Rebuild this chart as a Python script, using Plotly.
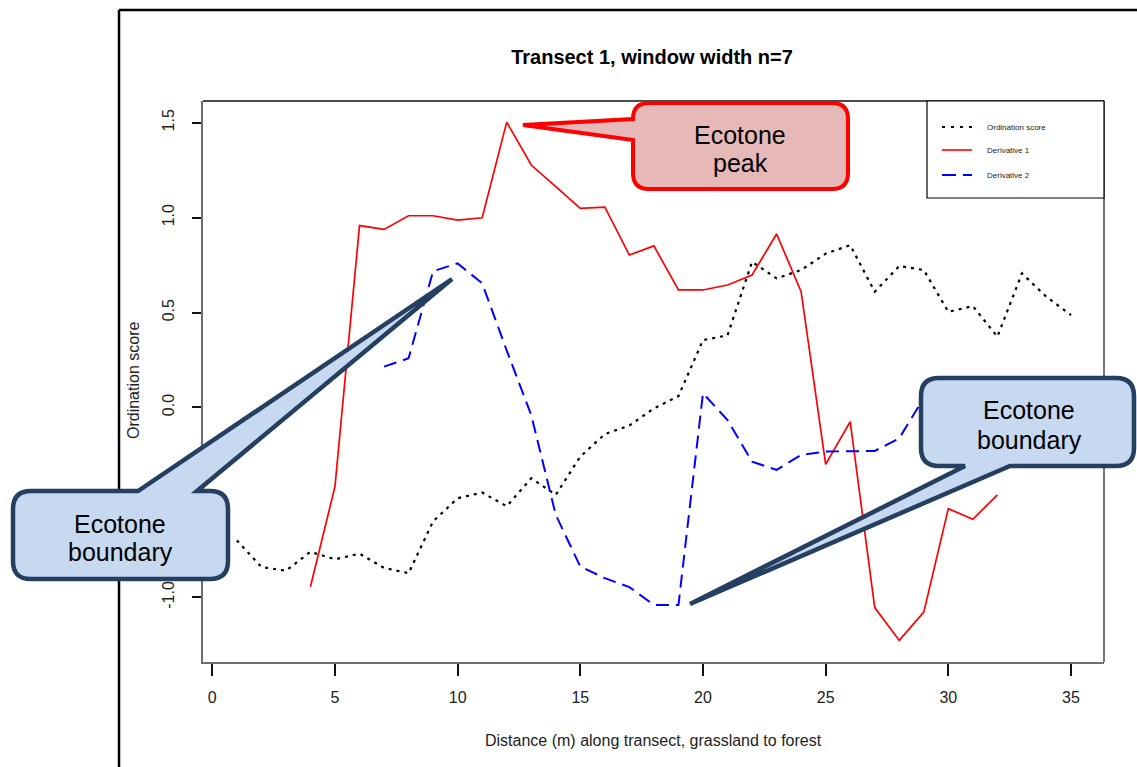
import plotly.graph_objects as go

W, H = 1137, 767
ML, MR, MT, MB = 203, 33, 101, 105
PW, PH = W - ML - MR, H - MT - MB

# ---------------- data ----------------
distance = list(range(1, 36))
ordination = [-0.70, -0.84, -0.86, -0.76, -0.80, -0.77, -0.845, -0.873, -0.60, -0.478,
              -0.448, -0.52, -0.373, -0.46, -0.259, -0.14, -0.095, -0.005, 0.06, 0.355,
              0.38, 0.767, 0.68, 0.724, 0.81, 0.855, 0.61, 0.745, 0.724, 0.504,
              0.534, 0.373, 0.706, 0.583, 0.487]

deriv1_x = list(range(4, 33))
deriv1 = [-0.944, -0.417, 0.958, 0.938, 1.01, 1.01, 0.987, 0.999, 1.503, 1.277,
          1.163, 1.049, 1.055, 0.803, 0.851, 0.619, 0.619, 0.645, 0.698, 0.914,
          0.61, -0.30, -0.075, -1.054, -1.227, -1.078, -0.533, -0.589, -0.46]

deriv2_x = list(range(7, 30))
deriv2 = [0.215, 0.259, 0.718, 0.759, 0.654, 0.30, -0.04, -0.566, -0.838, -0.899,
          -0.946, -1.04, -1.04, 0.075, -0.066, -0.285, -0.329, -0.25, -0.232, -0.232,
          -0.229, -0.162, 0.05]

x_ticks = [0, 5, 10, 15, 20, 25, 30, 35]
y_ticks = [-1.0, -0.5, 0.0, 0.5, 1.0, 1.5]
y_tick_labels = ["-1.0", "-0.5", "0.0", "0.5", "1.0", "1.5"]

series_names = ["Ordination score", "Derivative 1", "Derivative 2"]
series_colors = ["#000000", "#FF0000", "#0000FF"]
series_dash = ["3px,5px", "solid", "13px,7px"]

FONT = "Liberation Sans, Arial, sans-serif"


def P(x, y):
    """pixel -> paper coordinates"""
    return (x - ML) / PW, (H - MB - y) / PH


def pt(x, y):
    u, v = P(x, y)
    return f"{u:.5f},{v:.5f}"


def callout(L, T, R, B, r, side, p1, p2, tip):
    s = "M " + pt(L + r, T)
    if side == "top":
        s += " L " + pt(p1, T) + " L " + pt(*tip) + " L " + pt(p2, T)
    s += " L " + pt(R - r, T) + " Q " + pt(R, T) + " " + pt(R, T + r)
    s += " L " + pt(R, B - r) + " Q " + pt(R, B) + " " + pt(R - r, B)
    if side == "bottom":
        s += " L " + pt(p1, B) + " L " + pt(*tip) + " L " + pt(p2, B)
    s += " L " + pt(L + r, B) + " Q " + pt(L, B) + " " + pt(L, B - r)
    if side == "left":
        s += " L " + pt(L, p1) + " L " + pt(*tip) + " L " + pt(L, p2)
    s += " L " + pt(L, T + r) + " Q " + pt(L, T) + " " + pt(L + r, T) + " Z"
    return s


fig = go.Figure()
fig.add_trace(go.Scatter(x=distance, y=ordination, mode="lines", name=series_names[0],
                         line=dict(color=series_colors[0], width=2.2, dash=series_dash[0])))
fig.add_trace(go.Scatter(x=deriv1_x, y=deriv1, mode="lines", name=series_names[1],
                         line=dict(color=series_colors[1], width=1.7, dash=series_dash[1])))
fig.add_trace(go.Scatter(x=deriv2_x, y=deriv2, mode="lines", name=series_names[2],
                         line=dict(color=series_colors[2], width=2, dash=series_dash[2])))

shapes = []
annotations = []

# page frame lines (slide border)
x0, y0 = P(119, 10)
x1, y1 = P(1137, 767)
shapes.append(dict(type="line", xref="paper", yref="paper", x0=x0, y0=y0, x1=x0, y1=y1,
                   line=dict(color="#000000", width=2.5)))
shapes.append(dict(type="line", xref="paper", yref="paper", x0=x0, y0=y0, x1=P(1137, 10)[0], y1=y0,
                   line=dict(color="#000000", width=2.5)))

# top and right box edges
shapes.append(dict(type="line", xref="paper", yref="paper", x0=0, y0=1, x1=1, y1=1,
                   line=dict(color="#111111", width=1.5)))
shapes.append(dict(type="line", xref="paper", yref="paper", x0=1, y0=0, x1=1, y1=1,
                   line=dict(color="#444444", width=1.5)))

# custom legend
lx0, ly0 = P(927, 101)
lx1, ly1 = P(1104, 198)
shapes.append(dict(type="rect", xref="paper", yref="paper", x0=lx0, y0=ly1, x1=lx1, y1=ly0,
                   line=dict(color="#000000", width=1.2), fillcolor="white", layer="above"))
legend_rows = [127, 150, 175]
legend_widths = [2, 1.6, 2]
legend_dash = ["3px,6px", "solid", "14px,7px"]
for i, yy in enumerate(legend_rows):
    a0, b0 = P(942, yy)
    a1, _ = P(972, yy)
    shapes.append(dict(type="line", xref="paper", yref="paper", x0=a0, y0=b0, x1=a1, y1=b0,
                       line=dict(color=series_colors[i], width=legend_widths[i], dash=legend_dash[i]),
                       layer="above"))
    tx, ty = P(985, yy)
    annotations.append(dict(x=tx, y=ty, xref="paper", yref="paper", text=series_names[i],
                            showarrow=False, xanchor="left", yanchor="middle",
                            font=dict(family=FONT, size=8, color="#222222")))

# callouts
shapes.append(dict(type="path", xref="paper", yref="paper", layer="above",
                   path=callout(633, 103, 848, 189, 16, "left", 140, 119, (523, 125)),
                   fillcolor="#E6B9B8", line=dict(color="#FF0000", width=4)))
shapes.append(dict(type="path", xref="paper", yref="paper", layer="above",
                   path=callout(13, 491, 228, 579, 18, "top", 138, 197, (452, 279)),
                   fillcolor="#C6D9F1", line=dict(color="#243F60", width=4.5)))
shapes.append(dict(type="path", xref="paper", yref="paper", layer="above",
                   path=callout(921, 378, 1134, 466, 18, "bottom", 1010, 965, (690, 604)),
                   fillcolor="#C6D9F1", line=dict(color="#243F60", width=4.5)))

callout_text = [("Ecotone", 740, 135), ("peak", 740, 163),
                ("Ecotone", 120, 524), ("boundary", 120, 552),
                ("Ecotone", 1029, 410), ("boundary", 1029, 440)]
for txt, cx, cy in callout_text:
    u, v = P(cx, cy)
    annotations.append(dict(x=u, y=v, xref="paper", yref="paper", text=txt, showarrow=False,
                            xanchor="center", yanchor="middle",
                            font=dict(family=FONT, size=25, color="#000000")))

# axis titles
u, v = P(653, 740)
annotations.append(dict(x=u, y=v, xref="paper", yref="paper",
                        text="Distance (m) along transect, grassland to forest", showarrow=False,
                        xanchor="center", yanchor="middle",
                        font=dict(family=FONT, size=16, color="#222222")))
u, v = P(133, 381)
annotations.append(dict(x=u, y=v, xref="paper", yref="paper", text="Ordination score",
                        showarrow=False, textangle=-90, xanchor="center", yanchor="middle",
                        font=dict(family=FONT, size=16, color="#222222")))

fig.update_layout(
    width=W, height=H,
    margin=dict(l=ML, r=MR, t=MT, b=MB, pad=0),
    paper_bgcolor="white", plot_bgcolor="white",
    showlegend=False,
    title=dict(text="<b>Transect 1, window width n=7</b>", x=652 / W, xanchor="center",
               y=1 - 57 / H, yanchor="middle", yref="container",
               font=dict(family=FONT, size=20, color="#000000")),
    shapes=shapes,
    annotations=annotations,
)

fig.update_xaxes(range=[-0.379, 36.345], tickvals=x_ticks, ticktext=[str(t) for t in x_ticks],
                 showgrid=False, zeroline=False, showline=True, linecolor="#6e6e6e", linewidth=2,
                 ticks="outside", ticklen=12, tickwidth=1.5, tickcolor="#111111",
                 ticklabelstandoff=8,
                 tickfont=dict(family=FONT, size=16, color="#222222"))
fig.update_yaxes(range=[-1.3406, 1.6143], tickvals=y_ticks, ticktext=y_tick_labels,
                 showgrid=False, zeroline=False, showline=True, linecolor="#6e6e6e", linewidth=2,
                 ticks="outside", ticklen=9, tickwidth=1.5, tickcolor="#111111",
                 tickangle=-90, ticklabelstandoff=12,
                 tickfont=dict(family=FONT, size=16, color="#222222"))

fig.write_html("out.html", config={"displayModeBar": False})

with open("out.html", "r", encoding="utf-8") as f:
    html = f.read()
html = html.replace("<head>", "<head><style>html,body{margin:0;padding:0;overflow:hidden;}</style>", 1)
with open("out.html", "w", encoding="utf-8") as f:
    f.write(html)
